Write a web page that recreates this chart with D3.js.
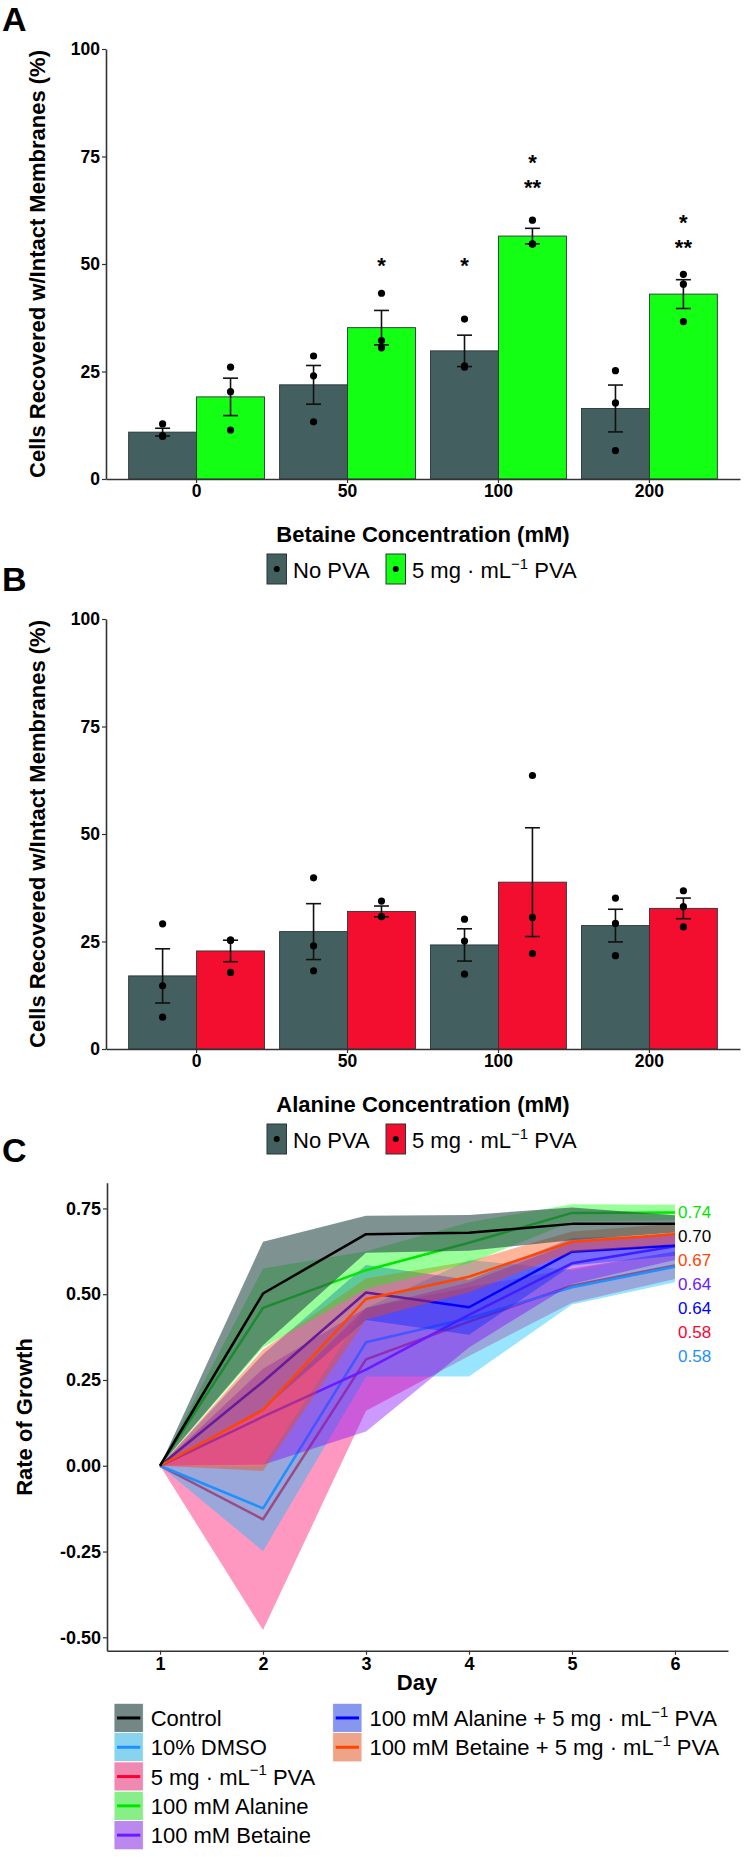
<!DOCTYPE html>
<html><head><meta charset="utf-8">
<script src="https://cdn.jsdelivr.net/npm/d3@7"></script>
<style>
body{margin:0;background:#fff}
svg{display:block}
text{font-family:"Liberation Sans",Arial,Helvetica,sans-serif}
</style>
</head><body><script>
// ---------------- DATA ----------------
const categories = ["0", "50", "100", "200"];
const groups = ["No PVA", "PVA"];

// Panel A: betaine
const betaineNoPVA = [10.9, 21.9, 29.8, 16.4];
const betaineNoPVASe = [0.9, 4.5, 3.65, 5.45];
const betainePVA = [19.1, 35.2, 56.5, 43.0];
const betainePVASe = [4.35, 4.0, 1.8, 3.35];
const betaineNoPVAPts = [[12.8, 10.1, 9.9], [28.6, 24.0, 13.3], [37.2, 26.3, 26.0], [25.2, 17.7, 6.6]];
const betainePVAPts = [[26.0, 20.3, 11.4], [43.2, 32.2, 30.5], [60.2, 54.7, 54.6], [47.6, 45.3, 36.6]];
const starCat = ["50", "100", "100", "100", "200", "200"];
const starGroup = ["PVA", "No PVA", "PVA", "PVA", "PVA", "PVA"];
const starText = ["*", "*", "**", "*", "**", "*"];
const starValue = [50.7, 50.7, 68.9, 74.7, 54.8, 60.8];

// Panel B: alanine
const alanineNoPVA = [17.0, 27.3, 24.2, 28.7];
const alanineNoPVASe = [6.3, 6.5, 3.75, 3.8];
const alaninePVA = [22.8, 32.0, 38.8, 32.7];
const alaninePVASe = [2.5, 1.25, 12.65, 2.4];
const alanineNoPVAPts = [[29.1, 14.7, 7.4], [39.8, 24.0, 18.2], [30.2, 25.1, 17.4], [35.1, 29.2, 21.7]];
const alaninePVAPts = [[25.3, 25.3, 17.8], [34.4, 30.8, 30.8], [63.6, 30.6, 22.2], [36.8, 33.1, 28.4]];

const barTicks = [0, 25, 50, 75, 100];

// Panel C: growth
const days = [1, 2, 3, 4, 5, 6];
const growthTicks = [-0.5, -0.25, 0, 0.25, 0.5, 0.75];
const controlMean = [0, 0.502, 0.675, 0.679, 0.705, 0.705];
const controlSd   = [0, 0.151, 0.054, 0.052, 0.048, 0.025];
const dmsoMean    = [0, -0.124, 0.36, 0.43, 0.52, 0.58];
const dmsoSd      = [0, 0.125, 0.10, 0.17, 0.05, 0.045];
const pvaMean     = [0, -0.156, 0.31, 0.42, 0.525, 0.584];
const pvaSd       = [0, 0.323, 0.15, 0.10, 0.05, 0.04];
const alanineMean = [0, 0.46, 0.57, 0.65, 0.737, 0.738];
const alanineSd   = [0, 0.115, 0.055, 0.06, 0.025, 0.023];
const betaineMean = [0, 0.143, 0.28, 0.44, 0.59, 0.64];
const betaineSd   = [0, 0.14, 0.18, 0.095, 0.06, 0.04];
const alaPvaMean  = [0, 0.245, 0.505, 0.462, 0.624, 0.642];
const alaPvaSd    = [0, 0.08, 0.08, 0.08, 0.04, 0.03];
const betPvaMean  = [0, 0.162, 0.486, 0.551, 0.653, 0.675];
const betPvaSd    = [0, 0.177, 0.06, 0.045, 0.03, 0.03];

const seriesPrefix = ["Control", "10% DMSO", "", "100 mM Alanine", "100 mM Betaine", "100 mM Alanine + ", "100 mM Betaine + "];
const seriesUnit = [false, false, true, false, false, true, true];
const finalLabels = ["0.74", "0.70", "0.67", "0.64", "0.64", "0.58", "0.58"];
const finalLabelSeries = [3, 0, 6, 4, 5, 2, 1];

// ---------------- STYLES ----------------
const FONT = '"Liberation Sans",Arial,sans-serif';
const greyBar = "#435f60", greenBar = "#13ff13", redBar = "#f30e30";
const axisCol = "#333";
const lineColors = ["#000000", "#1e90ff", "#ff0033", "#00e600", "#6a1bff", "#0000ff", "#ff4500"];
const ribbonColors = ["#2f4f4f", "#00bfff", "#ff1a75", "#00ff00", "#8000ff", "#0025ff", "#ff4500"];
const ribbonAlpha = [0.62, 0.4, 0.45, 0.4, 0.4, 0.4, 0.4];
const drawOrder = [2, 1, 4, 5, 6, 3, 0];

const W = 744, H = 1857;
const svg = d3.select("body").append("svg").attr("width", W).attr("height", H);
svg.append("rect").attr("width", W).attr("height", H).attr("fill", "#fff");

function unitText(sel, prefix, fs) {
  sel.append("tspan").text(prefix + "5 mg \u00B7 mL");
  sel.append("tspan").attr("dy", -fs * 0.42).attr("font-size", fs * 0.68).text("\u22121");
  sel.append("tspan").attr("dy", fs * 0.42).text(" PVA");
}

function panelLetter(t, y) {
  svg.append("text").attr("x", 2).attr("y", y).attr("font-size", 34).attr("font-weight", "bold").text(t);
}

// ---------------- BAR PANELS ----------------
function barPanel(o) {
  const g = svg.append("g");
  const x = d3.scaleBand().domain(categories).range([106, 740]).paddingInner(0.1).paddingOuter(0.15);
  const xs = d3.scaleBand().domain(groups).range([0, x.bandwidth()]);
  const y = d3.scaleLinear().domain([0, 100]).range([o.y0, o.y0 - 430]);
  const series = [
    {g: "No PVA", m: o.noM, se: o.noSe, pts: o.noPts, fill: greyBar},
    {g: "PVA", m: o.pM, se: o.pSe, pts: o.pPts, fill: o.color}
  ];
  series.forEach(s => {
    g.selectAll(null).data(s.m).enter().append("rect")
      .attr("x", (d, i) => x(categories[i]) + xs(s.g))
      .attr("width", xs.bandwidth())
      .attr("y", d => y(d)).attr("height", d => y(0) - y(d))
      .attr("fill", s.fill).attr("stroke", "#2a3535").attr("stroke-width", 0.9);
  });
  series.forEach(s => {
    const cx = (i) => x(categories[i]) + xs(s.g) + xs.bandwidth() / 2;
    s.m.forEach((m, i) => {
      const lo = m - s.se[i], hi = m + s.se[i];
      g.append("line").attr("x1", cx(i)).attr("x2", cx(i)).attr("y1", y(lo)).attr("y2", y(hi))
        .attr("stroke", "#111").attr("stroke-width", 1.6);
      [lo, hi].forEach(v => g.append("line").attr("x1", cx(i) - 7.5).attr("x2", cx(i) + 7.5)
        .attr("y1", y(v)).attr("y2", y(v)).attr("stroke", "#111").attr("stroke-width", 1.6));
      s.pts[i].forEach(p => g.append("circle").attr("cx", cx(i)).attr("cy", y(p)).attr("r", 3.6).attr("fill", "#000"));
    });
  });
  if (o.stars) {
    starText.forEach((t, k) => {
      const cx = x(starCat[k]) + xs(starGroup[k]) + xs.bandwidth() / 2;
      g.append("text").attr("x", cx).attr("y", y(starValue[k]) + 12).attr("text-anchor", "middle")
        .attr("font-size", 22).attr("font-weight", "bold").text(t);
    });
  }
  const ya = g.append("g").attr("transform", "translate(106,0)")
    .call(d3.axisLeft(y).tickValues(barTicks).tickSize(4).tickPadding(2).tickSizeOuter(0));
  const xa = g.append("g").attr("transform", `translate(0,${o.y0})`)
    .call(d3.axisBottom(x).tickSize(4).tickPadding(2).tickSizeOuter(0));
  [ya, xa].forEach(a => {
    a.select(".domain").attr("stroke", axisCol).attr("stroke-width", 1.6);
    a.selectAll(".tick line").attr("stroke", axisCol).attr("stroke-width", 1.2);
    a.selectAll(".tick text").attr("font-size", 17.5).attr("font-weight", "bold").attr("fill", "#000").attr("font-family", FONT);
  });
  g.append("text").attr("transform", `translate(45,${o.y0 - 215}) rotate(-90)`).attr("text-anchor", "middle")
    .attr("font-size", 22).attr("font-weight", "bold").text("Cells Recovered w/Intact Membranes (%)");
  g.append("text").attr("x", 423).attr("y", o.y0 + 62.5).attr("text-anchor", "middle")
    .attr("font-size", 22).attr("font-weight", "bold").text(o.xtitle);
  const ly = o.y0 + 75;
  [[267, greyBar], [386, o.color]].forEach(([lx, c]) => {
    g.append("rect").attr("x", lx).attr("y", ly).attr("width", 19.5).attr("height", 30)
      .attr("fill", c).attr("stroke", "#2a3535").attr("stroke-width", 1);
    g.append("circle").attr("cx", lx + 9.75).attr("cy", ly + 15).attr("r", 3).attr("fill", "#000");
  });
  g.append("text").attr("x", 293).attr("y", ly + 24).attr("font-size", 22).text("No PVA");
  unitText(g.append("text").attr("x", 412).attr("y", ly + 24).attr("font-size", 22), "", 22);
}

panelLetter("A", 31);
barPanel({y0: 479, noM: betaineNoPVA, noSe: betaineNoPVASe, noPts: betaineNoPVAPts,
  pM: betainePVA, pSe: betainePVASe, pPts: betainePVAPts, color: greenBar,
  xtitle: "Betaine Concentration (mM)", stars: true});
panelLetter("B", 591);
barPanel({y0: 1049, noM: alanineNoPVA, noSe: alanineNoPVASe, noPts: alanineNoPVAPts,
  pM: alaninePVA, pSe: alaninePVASe, pPts: alaninePVAPts, color: redBar,
  xtitle: "Alanine Concentration (mM)", stars: false});

// ---------------- GROWTH PANEL ----------------
panelLetter("C", 1162);
const means = [controlMean, dmsoMean, pvaMean, alanineMean, betaineMean, alaPvaMean, betPvaMean];
const sds = [controlSd, dmsoSd, pvaSd, alanineSd, betaineSd, alaPvaSd, betPvaSd];
const xC = d3.scaleLinear().domain([0.485, 6.515]).range([107, 728]);
const yC = d3.scaleLinear().domain([-0.539, 0.825]).range([1650.7, 1182.7]);
const gC = svg.append("g");
const area = d3.area().x(d => xC(d.day)).y0(d => yC(d.lo)).y1(d => yC(d.hi));
const line = d3.line().x(d => xC(d.day)).y(d => yC(d.m));
drawOrder.forEach(k => {
  const rows = days.map((d, i) => ({day: d, m: means[k][i], lo: means[k][i] - sds[k][i], hi: means[k][i] + sds[k][i]}));
  gC.append("path").datum(rows).attr("d", area).attr("fill", ribbonColors[k]).attr("fill-opacity", ribbonAlpha[k]);
  gC.append("path").datum(rows).attr("d", line).attr("fill", "none").attr("stroke", lineColors[k])
    .attr("stroke-width", 2.5).attr("stroke-linejoin", "round");
});
const labY = d3.scalePoint().domain(d3.range(finalLabels.length)).range([1218, 1362]);
finalLabels.forEach((t, i) => {
  gC.append("text").attr("x", 678).attr("y", labY(i)).attr("font-size", 17)
    .attr("fill", lineColors[finalLabelSeries[i]]).text(t);
});
const yaC = gC.append("g").attr("transform", "translate(107,0)")
  .call(d3.axisLeft(yC).tickValues(growthTicks).tickFormat(d3.format(".2f")).tickSize(4).tickPadding(2).tickSizeOuter(0));
yaC.selectAll(".tick text").text(d => d3.format(".2f")(d).replace("\u2212", "-"));
const xaC = gC.append("g").attr("transform", "translate(0,1650.7)")
  .call(d3.axisBottom(xC).tickValues(days).tickFormat(d3.format("d")).tickSize(4).tickPadding(2.5).tickSizeOuter(0));
[yaC, xaC].forEach(a => {
  a.select(".domain").attr("stroke", axisCol).attr("stroke-width", 1.6);
  a.selectAll(".tick line").attr("stroke", axisCol).attr("stroke-width", 1.2);
  a.selectAll(".tick text").attr("font-size", 18).attr("font-weight", "bold").attr("fill", "#000").attr("font-family", FONT);
});
gC.append("text").attr("transform", "translate(32,1417) rotate(-90)").attr("text-anchor", "middle")
  .attr("font-size", 22).attr("font-weight", "bold").text("Rate of Growth");
gC.append("text").attr("x", 417).attr("y", 1690).attr("text-anchor", "middle")
  .attr("font-size", 22).attr("font-weight", "bold").text("Day");

// legend C
const keyH = 29.3;
seriesPrefix.forEach((p, k) => {
  const col = k < 5 ? 0 : 1, row = k < 5 ? k : k - 5;
  const kx = col === 0 ? 114 : 332.7, ky = 1703.3 + row * keyH;
  gC.append("rect").attr("x", kx).attr("y", ky).attr("width", 29.3).attr("height", keyH).attr("fill", "#e3e3e3")
    .attr("stroke", "#fff").attr("stroke-width", 0.8);
  gC.append("rect").attr("x", kx).attr("y", ky).attr("width", 29.3).attr("height", keyH)
    .attr("fill", ribbonColors[k]).attr("fill-opacity", ribbonAlpha[k]).attr("stroke", "#fff").attr("stroke-width", 0.8);
  gC.append("line").attr("x1", kx + 3).attr("x2", kx + 26.3).attr("y1", ky + keyH / 2).attr("y2", ky + keyH / 2)
    .attr("stroke", lineColors[k]).attr("stroke-width", 3);
  const t = gC.append("text").attr("x", kx + 36.7).attr("y", ky + keyH / 2 + 8).attr("font-size", 22);
  if (seriesUnit[k]) unitText(t, p, 22); else t.text(p);
});
</script></body></html>
